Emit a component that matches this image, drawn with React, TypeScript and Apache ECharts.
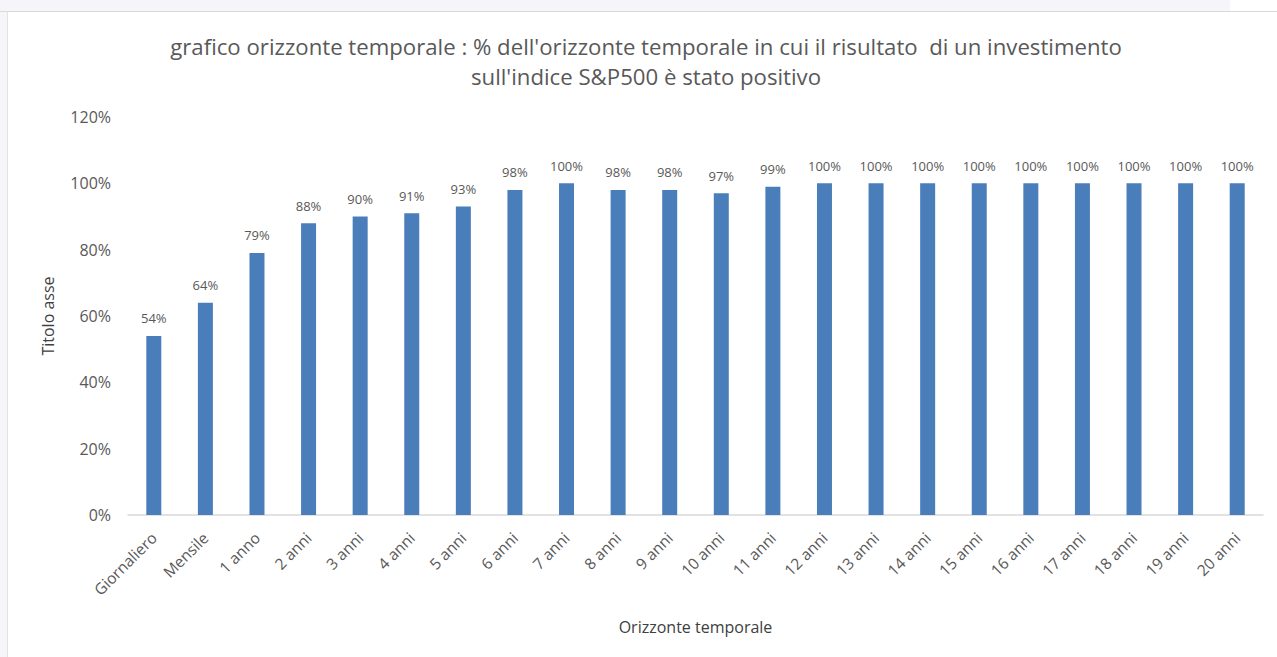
import React, { useEffect, useRef } from "react";
import * as echarts from "echarts";

const categories = [
  "Giornaliero", "Mensile", "1 anno", "2 anni", "3 anni", "4 anni", "5 anni",
  "6 anni", "7 anni", "8 anni", "9 anni", "10 anni", "11 anni", "12 anni",
  "13 anni", "14 anni", "15 anni", "16 anni", "17 anni", "18 anni", "19 anni", "20 anni",
];
const values = [54, 64, 79, 88, 90, 91, 93, 98, 100, 98, 98, 97, 99, 100, 100, 100, 100, 100, 100, 100, 100, 100];
const yTicks = [0, 20, 40, 60, 80, 100, 120];

const titleLines = [
  "grafico orizzonte temporale : % dell'orizzonte temporale in cui il risultato  di un investimento",
  "sull'indice S&P500 è stato positivo",
];
const yAxisTitle = "Titolo asse";
const xAxisTitle = "Orizzonte temporale";

const FONT = "'Open Sans', 'Noto Sans', sans-serif";

export default function App() {
  const ref = useRef<HTMLDivElement>(null);
  useEffect(() => {
    if (!ref.current) return;
    const chart = echarts.init(ref.current, null, { renderer: "svg" });
    chart.setOption({
      animation: false,
      backgroundColor: "#ffffff",
      textStyle: { fontFamily: FONT },
      title: {
        text: titleLines.join("\n"),
        left: 646,
        textAlign: "center",
        top: 31,
        padding: 0,
        textStyle: { fontSize: 22.2, fontWeight: "normal", color: "#595959", lineHeight: 30, fontFamily: FONT },
      },
      graphic: [
        { type: "rect", left: 0, top: 0, shape: { width: 1230, height: 11 }, style: { fill: "#f5f5fa" }, z: -1 },
        { type: "rect", left: 0, top: 0, shape: { width: 7, height: 657 }, style: { fill: "#f5f5fa" }, z: -1 },
        { type: "line", shape: { x1: 0, y1: 11.5, x2: 1277, y2: 11.5 }, style: { stroke: "#d9d9d9", lineWidth: 1 }, z: 0 },
        { type: "line", shape: { x1: 7.5, y1: 11, x2: 7.5, y2: 657 }, style: { stroke: "#e3e3e3", lineWidth: 1 }, z: 0 },
      ],
      grid: { left: 128, right: 14, top: 117, bottom: 142, containLabel: false },
      xAxis: {
        type: "category",
        data: categories,
        name: xAxisTitle,
        nameLocation: "middle",
        nameGap: 104,
        nameTextStyle: { fontSize: 16, color: "#404040" },
        axisLine: { lineStyle: { color: "#d9d9d9", width: 1.5 } },
        axisTick: { show: false },
        axisLabel: { rotate: 45, interval: 0, fontSize: 15.5, color: "#595959", margin: 20 },
      },
      yAxis: {
        type: "value",
        min: 0,
        max: 120,
        interval: 20,
        name: yAxisTitle,
        nameLocation: "middle",
        nameGap: 72,
        nameRotate: 90,
        nameTextStyle: { fontSize: 16, color: "#404040" },
        axisLine: { show: false },
        axisTick: { show: false },
        splitLine: { show: false },
        axisLabel: {
          fontSize: 16,
          color: "#595959",
          margin: 17,
          formatter: (v: number) => (yTicks.includes(v) ? v + "%" : ""),
        },
      },
      series: [
        {
          type: "bar",
          data: values,
          barWidth: 15,
          itemStyle: { color: "#4a7ebb" },
          label: {
            show: true,
            position: "top",
            distance: 11,
            fontSize: 13,
            color: "#595959",
            formatter: (p: any) => p.value + "%",
          },
        },
      ],
    });
    return () => chart.dispose();
  }, []);
  return (
    <div
      ref={ref}
      style={{ position: "fixed", left: 0, top: 0, width: 1277, height: 657 }}
    />
  );
}
